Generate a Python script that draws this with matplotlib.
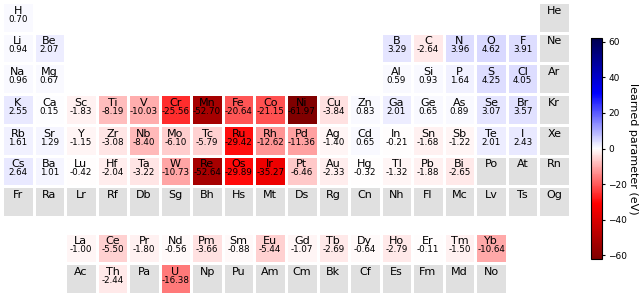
import numpy as np
import matplotlib
matplotlib.use("Agg")
import matplotlib.pyplot as plt
from matplotlib.colors import ListedColormap, Normalize

# table layout, one list per row (18 groups)
period1 = ["H"] + [""] * 16 + ["He"]
period2 = ["Li", "Be"] + [""] * 10 + ["B", "C", "N", "O", "F", "Ne"]
period3 = ["Na", "Mg"] + [""] * 10 + ["Al", "Si", "P", "S", "Cl", "Ar"]
period4 = ["K", "Ca", "Sc", "Ti", "V", "Cr", "Mn", "Fe", "Co", "Ni", "Cu", "Zn",
           "Ga", "Ge", "As", "Se", "Br", "Kr"]
period5 = ["Rb", "Sr", "Y", "Zr", "Nb", "Mo", "Tc", "Ru", "Rh", "Pd", "Ag", "Cd",
           "In", "Sn", "Sb", "Te", "I", "Xe"]
period6 = ["Cs", "Ba", "Lu", "Hf", "Ta", "W", "Re", "Os", "Ir", "Pt", "Au", "Hg",
           "Tl", "Pb", "Bi", "Po", "At", "Rn"]
period7 = ["Fr", "Ra", "Lr", "Rf", "Db", "Sg", "Bh", "Hs", "Mt", "Ds", "Rg", "Cn",
           "Nh", "Fl", "Mc", "Lv", "Ts", "Og"]
gap_row = [""] * 18
lanthanides = ["", "", "La", "Ce", "Pr", "Nd", "Pm", "Sm", "Eu", "Gd", "Tb", "Dy",
               "Ho", "Er", "Tm", "Yb", "", ""]
actinides = ["", "", "Ac", "Th", "Pa", "U", "Np", "Pu", "Am", "Cm", "Bk", "Cf",
             "Es", "Fm", "Md", "No", "", ""]

table = [period1, period2, period3, period4, period5, period6, period7,
         gap_row, lanthanides, actinides]
row_edges = [0, 1, 2, 3, 4, 5, 6, 7, 7.5, 8.5, 9.5]

# learned parameter (eV)
params = {
    "H": 0.70, "Li": 0.94, "Be": 2.07, "B": 3.29, "C": -2.64, "N": 3.96, "O": 4.62,
    "F": 3.91, "Na": 0.96, "Mg": 0.67, "Al": 0.59, "Si": 0.93, "P": 1.64, "S": 4.25,
    "Cl": 4.05, "K": 2.55, "Ca": 0.15, "Sc": -1.83, "Ti": -8.19, "V": -10.03,
    "Cr": -25.56, "Mn": -52.70, "Fe": -20.64, "Co": -21.15, "Ni": -61.97,
    "Cu": -3.84, "Zn": 0.83, "Ga": 2.01, "Ge": 0.65, "As": 0.89, "Se": 3.07,
    "Br": 3.57, "Rb": 1.61, "Sr": 1.29, "Y": -1.15, "Zr": -3.08, "Nb": -8.40,
    "Mo": -6.10, "Tc": -5.79, "Ru": -29.42, "Rh": -12.62, "Pd": -11.36, "Ag": -1.40,
    "Cd": 0.65, "In": -0.21, "Sn": -1.68, "Sb": -1.22, "Te": 2.01, "I": 2.43,
    "Cs": 2.64, "Ba": 1.01, "Lu": -0.42, "Hf": -2.04, "Ta": -3.22, "W": -10.73,
    "Re": -52.64, "Os": -29.89, "Ir": -35.27, "Pt": -6.46, "Au": -2.33, "Hg": -0.32,
    "Tl": -1.32, "Pb": -1.88, "Bi": -2.65,
    "La": -1.00, "Ce": -5.50, "Pr": -1.80, "Nd": -0.56, "Pm": -3.66, "Sm": -0.88,
    "Eu": -5.44, "Gd": -1.07, "Tb": -2.69, "Dy": -0.64, "Ho": -2.79, "Er": -0.11,
    "Tm": -1.50, "Yb": -10.64, "Th": -2.44, "U": -16.38,
}

nrow, ncol = len(table), 18
present = np.full((nrow, ncol), np.nan)
vals = np.full((nrow, ncol), np.nan)
for i, row in enumerate(table):
    for j, sym in enumerate(row):
        if sym:
            present[i, j] = 1
            if sym in params:
                vals[i, j] = params[sym]

vmax = np.nanmax(np.abs(vals))
x_edges = np.arange(ncol + 1)

fig = plt.figure(figsize=(6.4, 2.96), dpi=100)
ax = fig.add_axes([2 / 640, 2 / 296, 568 / 640, 292 / 296])

ax.pcolormesh(x_edges, row_edges, np.ma.masked_invalid(present),
              cmap=ListedColormap(["#e0e0e0"]), edgecolors="white", linewidth=1)
mesh = ax.pcolormesh(x_edges, row_edges, np.ma.masked_invalid(vals),
                     cmap="seismic_r", norm=Normalize(-vmax, vmax),
                     edgecolors="white", linewidth=1)

for i, row in enumerate(table):
    yc = (row_edges[i] + row_edges[i + 1]) / 2
    for j, sym in enumerate(row):
        if not sym:
            continue
        ax.text(j + 0.5, yc - 0.22, sym, ha="center", va="center", fontsize=8)
        if sym in params:
            ax.text(j + 0.5, yc + 0.06, f"{params[sym]:.2f}", ha="center",
                    va="center", fontsize=6.3)

ax.set_xlim(0, ncol)
ax.set_ylim(row_edges[-1], 0)
ax.axis("off")

cax = fig.add_axes([591 / 640, 1 - 259 / 296, 11 / 640, 221 / 296])
cb = fig.colorbar(mesh, cax=cax)
cb.set_ticks([-60, -40, -20, 0, 20, 40, 60])
cb.ax.tick_params(labelsize=6.5, length=2.5, pad=2)
cb.set_label("learned parameter (eV)", rotation=270, labelpad=8, fontsize=8)

fig.savefig("out.png", dpi=100)
